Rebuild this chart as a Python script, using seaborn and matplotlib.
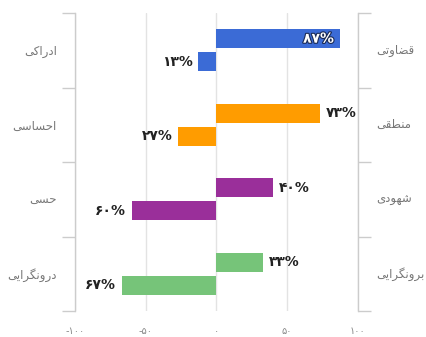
import numpy as np
import pandas as pd
import matplotlib
matplotlib.use("Agg")
import matplotlib.pyplot as plt
import matplotlib.patheffects as pe
import seaborn as sns

# Personality dimension pairs: left trait (negative side), right trait (positive side)
left_labels = ["ادراکی", "احساسی", "حسی", "درونگرایی"]
right_labels = ["قضاوتی", "منطقی", "شهودی", "برونگرایی"]
right_values = [87, 73, 40, 33]
left_values = [13, 27, 60, 67]
bar_colors = ["#3b6bd6", "#ff9c00", "#9a2f9a", "#76c479"]
x_ticks = [-100, -50, 0, 50, 100]

# Arabic-script contextual forms: (isolated, final, initial, medial)
FORMS = {
    "ا": ("\uFE8D", "\uFE8E", None, None),
    "ب": ("\uFE8F", "\uFE90", "\uFE91", "\uFE92"),
    "ت": ("\uFE95", "\uFE96", "\uFE97", "\uFE98"),
    "ح": ("\uFEA1", "\uFEA2", "\uFEA3", "\uFEA4"),
    "د": ("\uFEA9", "\uFEAA", None, None),
    "ر": ("\uFEAD", "\uFEAE", None, None),
    "س": ("\uFEB1", "\uFEB2", "\uFEB3", "\uFEB4"),
    "ش": ("\uFEB5", "\uFEB6", "\uFEB7", "\uFEB8"),
    "ض": ("\uFEBD", "\uFEBE", "\uFEBF", "\uFEC0"),
    "ط": ("\uFEC1", "\uFEC2", "\uFEC3", "\uFEC4"),
    "ق": ("\uFED5", "\uFED6", "\uFED7", "\uFED8"),
    "م": ("\uFEE1", "\uFEE2", "\uFEE3", "\uFEE4"),
    "ن": ("\uFEE5", "\uFEE6", "\uFEE7", "\uFEE8"),
    "ه": ("\uFEE9", "\uFEEA", "\uFEEB", "\uFEEC"),
    "و": ("\uFEED", "\uFEEE", None, None),
    "ک": ("\uFB8E", "\uFB8F", "\uFB90", "\uFB91"),
    "گ": ("\uFB92", "\uFB93", "\uFB94", "\uFB95"),
    "ی": ("\uFBFC", "\uFBFD", "\uFBFE", "\uFBFF"),
}


def shape(word):
    """Join letters into their contextual forms and order them for LTR drawing."""
    out = []
    for i, c in enumerate(word):
        iso, fin, ini, med = FORMS[c]
        prev = word[i - 1] if i > 0 else None
        nxt = word[i + 1] if i < len(word) - 1 else None
        join_prev = prev is not None and FORMS[prev][2] is not None
        join_next = nxt is not None and ini is not None
        if join_prev and join_next:
            out.append(med)
        elif join_prev:
            out.append(fin)
        elif join_next:
            out.append(ini)
        else:
            out.append(iso)
    return "".join(reversed(out))


FA_DIGITS = str.maketrans("0123456789", "۰۱۲۳۴۵۶۷۸۹")


def fa_num(n):
    return str(n).translate(FA_DIGITS)


sns.set_style("white")
plt.rcParams["font.family"] = ["DejaVu Sans"]

df = pd.DataFrame({
    "pair": left_labels * 2,
    "side": ["pos"] * 4 + ["neg"] * 4,
    "value": right_values + [-v for v in left_values],
})

fig = plt.figure(figsize=(4.27, 3.37), dpi=100)
ax = fig.add_axes([75 / 427, 1 - 311 / 337, (358 - 75) / 427, (311 - 13) / 337])

sns.barplot(data=df, y="pair", x="value", hue="side", hue_order=["pos", "neg"],
            orient="h", dodge=True, width=0.62, gap=0.18, legend=False,
            order=left_labels, ax=ax, saturation=1)

# colour each bar by its trait pair and attach its percentage label
for patch in ax.patches:
    h = patch.get_height()
    if h == 0:
        continue
    yc = patch.get_y() + h / 2
    idx = int(round(yc))
    patch.set_facecolor(bar_colors[idx])
    patch.set_edgecolor("none")
    x0 = patch.get_x()
    x1 = x0 + patch.get_width()
    end = x1 if abs(x1) > abs(x0) else x0
    val = abs(end)
    txt = fa_num(int(round(val))) + "%"
    if end > 0 and val > 80:
        ax.annotate(txt, xy=(end, yc), xytext=(-4, 0), textcoords="offset points",
                    ha="right", va="center", fontsize=10, fontweight="bold", color="white",
                    path_effects=[pe.withStroke(linewidth=1.6, foreground="#1a2a55")])
    elif end > 0:
        ax.annotate(txt, xy=(end, yc), xytext=(4, 0), textcoords="offset points",
                    ha="left", va="center", fontsize=10, fontweight="bold", color="#222222")
    else:
        ax.annotate(txt, xy=(end, yc), xytext=(-4, 0), textcoords="offset points",
                    ha="right", va="center", fontsize=10, fontweight="bold", color="#222222")

ax.set_xlim(-100, 100)
ax.set_ylim(3.5, -0.5)
ax.set_xlabel("")
ax.set_ylabel("")

# vertical gridlines and bottom scale
ax.set_xticks(x_ticks)
ax.set_xticklabels(["-" + fa_num(abs(t)) if t < 0 else fa_num(t) for t in x_ticks],
                   fontsize=7, color="#888888")
ax.tick_params(axis="x", length=0, pad=10.5)
ax.xaxis.grid(True, color="#e3e3e3", linewidth=1)
ax.yaxis.grid(False)
ax.set_axisbelow(True)

# left trait names on the axis, band separators as minor ticks on both spines
ax.set_yticks(range(len(left_labels)))
ax.set_yticklabels([shape(s) for s in left_labels], fontsize=8.5, color="#777777")
ax.tick_params(axis="y", which="major", length=0, pad=13)
ax.set_yticks(np.arange(-0.5, len(left_labels), 1.0), minor=True)
ax.tick_params(axis="y", which="minor", left=True, right=True, direction="out",
               length=9.5, width=1, color="#cccccc")

# right trait names
for i, lab in enumerate(right_labels):
    ax.annotate(shape(lab), xy=(1.0, i), xycoords=("axes fraction", "data"),
                xytext=(13, 0), textcoords="offset points", ha="left", va="center",
                fontsize=8.5, color="#777777")

for side in ["top", "bottom"]:
    ax.spines[side].set_visible(False)
for side in ["left", "right"]:
    ax.spines[side].set_color("#cccccc")
    ax.spines[side].set_linewidth(1)

fig.savefig("out.png", dpi=100)
